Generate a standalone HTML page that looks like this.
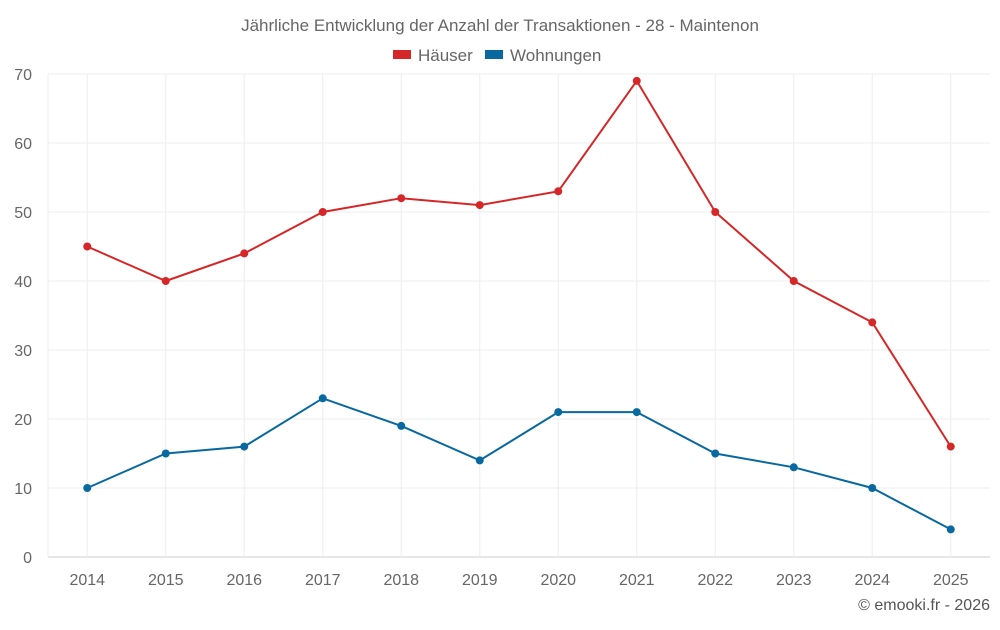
<!DOCTYPE html>
<html><head><meta charset="utf-8"><style>
body{margin:0;background:#fff;font-family:"Liberation Sans",Roboto,sans-serif}
svg text{font-family:"Liberation Sans",sans-serif}
</style></head><body>
<svg id="c" width="1000" height="625" viewBox="0 0 1000 625">
<text x="500" y="31" text-anchor="middle" font-size="17" fill="#666">Jährliche Entwicklung der Anzahl der Transaktionen - 28 - Maintenon</text>
<g>
<g><rect x="393" y="50" width="18" height="9" fill="#d62728"/><text x="418" y="61" font-size="17" fill="#666">Häuser</text></g>
<g><rect x="485" y="50" width="18" height="9" fill="#0868a0"/><text x="510" y="61" font-size="17" fill="#666">Wohnungen</text></g>
</g>
<g id="grid"></g><g id="axes"></g><g id="series"></g>
<text x="990" y="610" text-anchor="end" font-size="16" fill="#555">© emooki.fr - 2026</text>
</svg>
<script>
const years=["2014","2015","2016","2017","2018","2019","2020","2021","2022","2023","2024","2025"];
const haeuser=[45,40,44,50,52,51,53,69,50,40,34,16];
const wohnungen=[10,15,16,23,19,14,21,21,15,13,10,4];
const yTicks=[0,10,20,30,40,50,60,70];
const NS="http://www.w3.org/2000/svg";
const L=48,R=990,T=74,B=557,yMax=70;
const step=(R-L)/years.length;
const x=i=>L+step*(i+0.5);
const y=v=>B-(v/yMax)*(B-T);
function mk(tag,attrs,parent){const e=document.createElementNS(NS,tag);for(const k in attrs)e.setAttribute(k,attrs[k]);parent.appendChild(e);return e;}
const grid=document.getElementById('grid'),axes=document.getElementById('axes'),ser=document.getElementById('series');
yTicks.forEach(t=>{
 const l=mk('line',{x1:L,x2:R,y1:y(t),y2:y(t),stroke:t===0?'#ccc':'#eee','stroke-width':1},grid);
 
 
 const tx=mk('text',{x:32,y:y(t)+6,'text-anchor':'end','font-size':16,fill:'#666'},axes);
 tx.textContent=t;
 
 
});
years.forEach((yr,i)=>{
 const l=mk('line',{x1:x(i),x2:x(i),y1:T,y2:B,stroke:'#eee','stroke-width':1},grid);
 
 
 const tx=mk('text',{x:x(i),y:585,'text-anchor':'middle','font-size':16,fill:'#666'},axes);
 tx.textContent=yr;
 
 
});
const la=mk('line',{x1:L,x2:L,y1:T,y2:B,stroke:'#eee'},grid);


function draw(vals,color,name){
 const p=mk('polyline',{points:vals.map((v,i)=>x(i)+','+y(v)).join(' '),fill:'none',stroke:color,'stroke-width':2},ser);
 
 
 vals.forEach((v,i)=>{
  const c=mk('circle',{cx:x(i),cy:y(v),r:4,fill:color},ser);
  
  
 });
}
draw(haeuser,'#d62728','haeuser');
draw(wohnungen,'#0868a0','wohnungen');
</script>
</body></html>
